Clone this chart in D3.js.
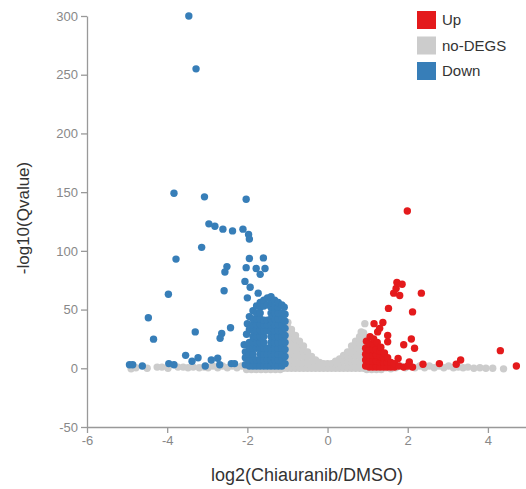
<!DOCTYPE html>
<html>
<head>
<meta charset="utf-8">
<script src="https://cdn.jsdelivr.net/npm/d3@7"></script>
<style>
  body { margin: 0; background: #fff; }
  svg { display: block; }
</style>
</head>
<body>
<div id="chart"></div>
<script>
// values: [log2(Chiauranib/DMSO), -log10(Qvalue)]
var xTicks = [-6, -4, -2, 0, 2, 4];
var yTicks = [-50, 0, 50, 100, 150, 200, 250, 300];
var legendLabels = ['Up', 'no-DEGS', 'Down'];

var noDegPoints = [
  // baseline band, left
  [-4.9,-0.5],[-4.78,0.5],[-4.5,0],[-4.25,1],[-4.13,1],[-3.98,0],[-3.73,1],[-3.6,1],[-3.48,0.5],
  [-3.35,1],[-3.2,0.5],[-3.08,1],[-2.98,0.5],[-2.86,2],[-2.74,0.5],[-2.62,2],[-2.5,0.5],[-2.38,2],
  [-2.26,0.5],[-2.14,2],[-2.02,-1],[-1.9,-1],[-1.78,-1],[-1.66,-1],[-1.54,-1],[-1.42,-1],[-1.3,-1],
  [-1.18,-1],
  // valley between the two groups
  [-1.1,0],[-1.1,5],[-1.1,10],[-1.1,15],[-1.1,20],[-1.1,25],[-1.1,30],[-1.1,35],[-1.1,40],[-1.1,44],
  [-1.0,0],[-1.0,5],[-1.0,10],[-1.0,15],[-1.0,20],[-1.0,25],[-1.0,30],[-1.0,35],[-0.99,39],
  [-0.9,0],[-0.9,5],[-0.9,10],[-0.9,15],[-0.9,20],[-0.9,25],[-0.9,30],[-0.9,33],
  [-0.8,0],[-0.8,5],[-0.8,10],[-0.8,15],[-0.8,20],[-0.8,25],[-0.8,28],
  [-0.7,0],[-0.7,5],[-0.7,10],[-0.7,15],[-0.7,20],[-0.7,23],
  [-0.6,0],[-0.6,5],[-0.6,10],[-0.6,15],[-0.6,19],
  [-0.5,0],[-0.5,5],[-0.5,10],[-0.5,14],
  [-0.4,0],[-0.4,5],[-0.4,10],
  [-0.3,0],[-0.3,4],[-0.3,7],
  [-0.2,0],[-0.2,5],
  [-0.1,0],[-0.1,4],
  [0.0,0],[0.0,4],
  [0.1,0],[0.1,4],
  [0.2,0],[0.2,6],
  [0.3,0],[0.3,4],[0.3,8],
  [0.4,0],[0.4,6],[0.4,11],
  [0.5,0],[0.5,5],[0.5,10],[0.5,14],
  [0.6,0],[0.6,5],[0.6,10],[0.6,15],[0.6,19],
  [0.7,0],[0.7,5],[0.7,10],[0.7,15],[0.7,20],[0.7,23],
  [0.8,0],[0.8,5],[0.8,10],[0.8,15],[0.8,20],[0.8,25],[0.8,27],
  [0.9,0],[0.9,5],[0.9,10],[0.9,15],[0.9,20],[0.9,25],[0.9,30],
  [0.84,31],[0.93,38],
  // baseline band, right
  [0.98,-1],[1.1,-1],[1.22,-1],[1.34,-1],[1.46,0.5],[1.58,-0.5],[1.7,0.5],[1.82,2],[1.94,0.5],
  [2.06,2],[2.18,0.5],[2.3,2],[2.42,0.5],[2.54,2],[2.66,0.5],[2.78,2],[2.9,0.5],[3.02,2],
  [3.14,0.5],[3.26,1],[3.38,0.5],[3.5,1],[3.65,0],[3.8,0.5],[3.95,0],[4.12,0],[4.39,-0.5]
];

var downPoints = [
  [-3.46,300],[-3.28,255],[-3.83,149],[-3.07,146],[-2.03,144],
  [-2.96,123],[-2.81,121],[-2.61,118.5],[-2.37,117],[-2.11,118.5],[-1.97,114],[-1.95,110],
  [-3.14,103],[-3.78,93],[-1.95,93.5],[-1.6,94],[-2.51,86.6],[-2.56,82],[-2.03,85.7],[-1.78,85],
  [-1.56,85],[-1.68,80],[-2.06,74],[-1.93,69],[-2.58,66],[-1.73,64],[-3.97,63],[-2.0,60],
  [-4.47,43],[-2.42,34.5],[-3.3,31],[-2.64,29.6],[-2.68,25.6],[-4.34,24.8],[-2.08,20],
  [-3.54,11],[-3.23,9],[-3.38,6],[-2.9,7],[-2.74,8.5],[-4.94,3],[-4.86,3],[-4.62,2],
  [-3.96,4],[-3.83,3],[-3.05,2],[-2.69,3],[-2.4,4],[-2.32,4],
  // dense group
  [-2.05,3],[-2.05,9],[-2.05,14],[-2.02,29],[-2.0,38],
  [-1.95,2],[-1.95,7],[-1.95,12],[-1.95,17],[-1.95,22],[-1.95,33],[-1.95,44],
  [-1.86,2],[-1.86,7],[-1.86,12],[-1.86,17],[-1.86,22],[-1.86,27],[-1.86,32],[-1.86,37],[-1.86,42],[-1.86,49],
  [-1.77,2],[-1.77,7],[-1.77,17],[-1.77,22],[-1.77,27],[-1.77,32],[-1.77,37],[-1.77,42],[-1.77,47],[-1.77,53],
  [-1.68,2],[-1.68,7],[-1.68,12],[-1.68,17],[-1.68,22],[-1.68,27],[-1.68,32],[-1.68,37],[-1.68,42],[-1.68,47],[-1.68,52],[-1.68,56],
  [-1.59,2],[-1.59,7],[-1.59,12],[-1.59,17],[-1.59,22],[-1.59,27],[-1.59,32],[-1.59,37],[-1.59,41],[-1.59,53],[-1.59,58],
  [-1.5,2],[-1.5,7],[-1.5,12],[-1.5,17],[-1.5,32],[-1.5,37],[-1.5,41],[-1.5,54],[-1.5,60],
  [-1.41,2],[-1.41,7],[-1.41,12],[-1.41,17],[-1.41,22],[-1.41,27],[-1.41,32],[-1.41,37],[-1.41,42],[-1.41,47],[-1.41,52],[-1.41,57],[-1.41,61],
  [-1.32,2],[-1.32,7],[-1.32,12],[-1.32,17],[-1.32,22],[-1.32,27],[-1.32,32],[-1.32,37],[-1.32,42],[-1.32,47],[-1.32,52],[-1.32,58],
  [-1.23,2],[-1.23,7],[-1.23,12],[-1.23,17],[-1.23,22],[-1.23,27],[-1.23,32],[-1.23,37],[-1.23,42],[-1.23,47],[-1.23,52],[-1.23,56],
  [-1.14,2],[-1.14,7],[-1.14,12],[-1.14,17],[-1.14,22],[-1.14,27],[-1.14,32],[-1.14,37],[-1.14,42],[-1.14,47],[-1.14,54],
  [-1.06,4],[-1.06,10],[-1.06,16],[-1.06,22],[-1.06,28],[-1.06,34],[-1.06,40],[-1.06,46],[-1.08,52]
];

var upPoints = [
  [1.99,134],[1.73,73],[1.86,71.5],[1.71,68],[1.65,64],[1.8,62],[2.34,64],[1.52,51],[2.12,48],
  [1.16,38],[1.38,39],[1.3,34],[1.25,31],[1.5,28],[2.09,25],[1.5,22.5],[1.9,20],[2.17,17],
  [1.76,8.3],[2.04,5.4],[2.38,3.4],[2.79,4],[3.21,3.4],[3.32,7],[4.31,15],[4.71,2],
  // dense group
  [0.95,2],[0.95,7],[0.95,12],[0.95,17],[0.97,23],
  [1.04,1],[1.04,6],[1.04,11],[1.04,16],[1.04,21],[1.06,27],
  [1.13,1],[1.13,6],[1.13,11],[1.13,16],[1.13,21],[1.15,25],
  [1.22,1],[1.22,6],[1.22,11],[1.22,16],[1.24,22],
  [1.31,1],[1.31,5],[1.31,10],[1.31,15],[1.33,18],
  [1.4,1],[1.4,5],[1.4,9],[1.42,13],
  [1.49,1],[1.49,5],[1.5,9],
  [1.58,1],[1.58,5],
  [1.67,1],[1.67,4],
  [1.78,2],[1.9,1],[2.0,2],[2.12,1]
];

var colours = { 'Up': '#e41a1c', 'no-DEGS': '#cccccc', 'Down': '#377eb8' };

var width = 526,
  height = 489,
  plotLeft = 87,
  plotTop = 16,
  plotBottom = 427,
  dotRadius = 3.7;

var svg = d3.select('#chart')
  .append('svg')
  .attr('width', width)
  .attr('height', height);

var x = d3.scaleLinear()
  .domain([-6, 5])
  .range([plotLeft, 528]);

var y = d3.scaleLinear()
  .domain([-50, 300])
  .range([plotBottom, plotTop]);

// points: grey first so the coloured groups sit on top
var groups = [
  { name: 'no-DEGS', points: noDegPoints },
  { name: 'Down', points: downPoints },
  { name: 'Up', points: upPoints }
];

groups.forEach(function(g) {
  svg.append('g')
    .selectAll('circle')
    .data(g.points)
    .enter()
    .append('circle')
    .attr('cx', function(d) { return x(d[0]); })
    .attr('cy', function(d) { return y(d[1]); })
    .attr('r', dotRadius)
    .attr('fill', colours[g.name]);
});

// axes, plain hyphen for negatives like the original
var plain = function(d) { return String(d); };

var xAxis = svg.append('g')
  .attr('transform', 'translate(0,' + plotBottom + ')')
  .call(d3.axisBottom(x).tickValues(xTicks).tickFormat(plain).tickSizeOuter(0));

var yAxis = svg.append('g')
  .attr('transform', 'translate(' + plotLeft + ',0)')
  .call(d3.axisLeft(y).tickValues(yTicks).tickFormat(plain).tickSizeOuter(0));

[xAxis, yAxis].forEach(function(a) {
  a.selectAll('path, line').attr('stroke', '#999').attr('stroke-width', 1.3);
  a.selectAll('text')
    .style('font-family', 'Liberation Sans, Arial, sans-serif')
    .style('font-size', '13px')
    .attr('fill', '#888');
});

svg.append('text')
  .attr('x', 307)
  .attr('y', 481)
  .attr('text-anchor', 'middle')
  .style('font-family', 'Liberation Sans, Arial, sans-serif')
  .style('font-size', '18px')
  .attr('fill', '#333')
  .text('log2(Chiauranib/DMSO)');

svg.append('text')
  .attr('transform', 'translate(29,218) rotate(-90)')
  .attr('text-anchor', 'middle')
  .style('font-family', 'Liberation Sans, Arial, sans-serif')
  .style('font-size', '17px')
  .attr('fill', '#333')
  .text('-log10(Qvalue)');

// legend
var legend = svg.append('g')
  .attr('transform', 'translate(417,11)');

var item = legend.selectAll('g')
  .data(legendLabels)
  .enter()
  .append('g')
  .attr('transform', function(d, i) { return 'translate(0,' + (i * 25.5) + ')'; });

item.append('rect')
  .attr('width', 19)
  .attr('height', 18)
  .attr('fill', function(d) { return colours[d]; });

item.append('text')
  .attr('x', 25)
  .attr('y', 9)
  .attr('dy', '0.35em')
  .style('font-family', 'Liberation Sans, Arial, sans-serif')
  .style('font-size', '15px')
  .attr('fill', '#333')
  .text(function(d) { return d; });
</script>
</body>
</html>
